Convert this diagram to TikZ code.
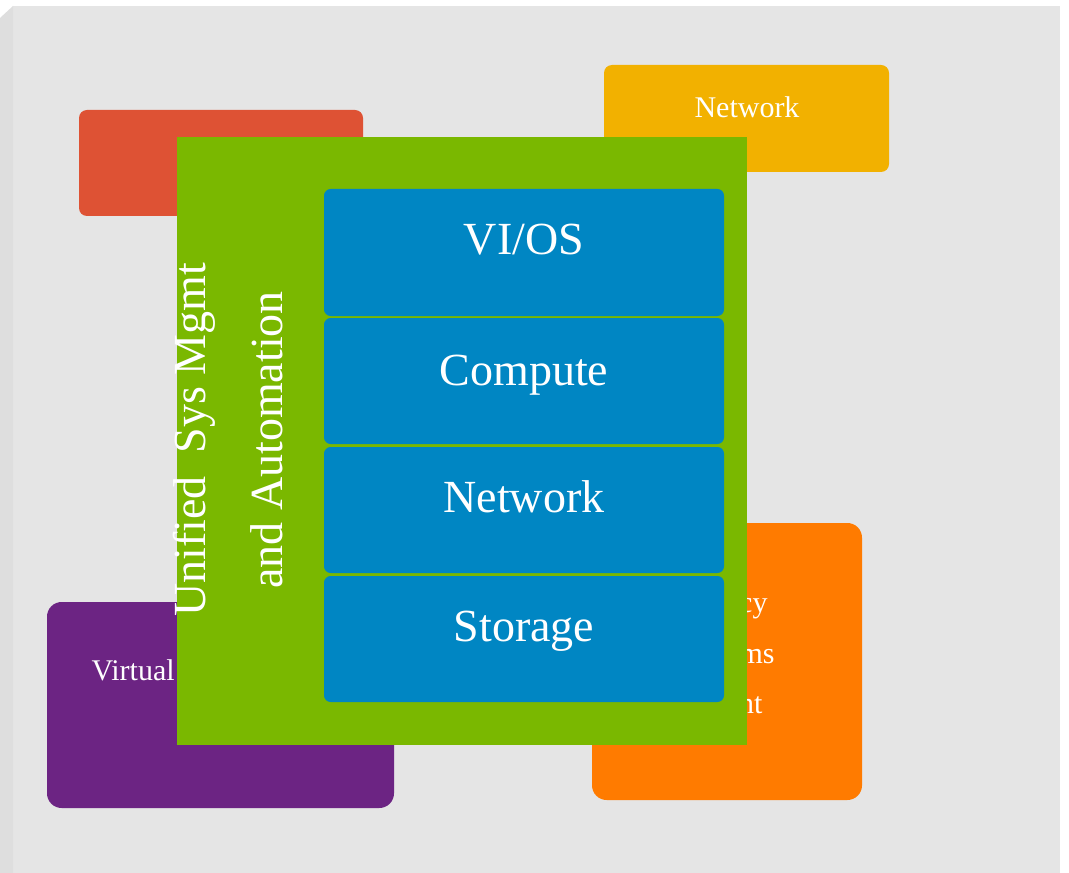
\documentclass[tikz,border=0pt]{standalone}
\usepackage{fontspec}
\setmainfont{Liberation Serif}

\definecolor{bggray}{RGB}{229,229,229}
\definecolor{bgedge}{RGB}{222,222,222}
\definecolor{redbox}{RGB}{222,82,52}
\definecolor{yellowbox}{RGB}{242,177,0}
\definecolor{purplebox}{RGB}{108,36,131}
\definecolor{orangebox}{RGB}{255,123,0}
\definecolor{greenbox}{RGB}{122,184,0}
\definecolor{bluebox}{RGB}{0,134,195}

\tikzset{every picture/.style={line width=0.75pt}}
\tikzset{
  smalltxt/.style={text=white, font=\fontsize{22.5}{27}\selectfont, inner sep=0pt},
  bigtxt/.style={text=white, font=\fontsize{34.5}{41}\selectfont, inner sep=0pt},
  layer/.style={fill=bluebox, rounded corners=5pt},
}

\begin{document}
\begin{tikzpicture}[x=0.75pt,y=0.75pt,yscale=-1,xscale=1]
	\useasboundingbox (0,0) rectangle (1069,873);

	%Shape: Background
	\fill [bggray] (13,6) -- (1060,6) -- (1060,873) -- (13,873) -- cycle ;
	\fill [bgedge] (0,18) -- (13,6) -- (13,873) -- (0,873) -- cycle ;

	%Shape: Rounded Rect (red)
	\fill [redbox, rounded corners=6pt] (79,110) rectangle (363,216) ;
	%Shape: Rounded Rect (yellow)
	\fill [yellowbox, rounded corners=6pt] (604,65) rectangle (889,172) ;
	% Text Node
	\node [smalltxt, anchor=base] (netsmall) at (747,118) {Network};
	%Shape: Rounded Rect (purple)
	\fill [purplebox, rounded corners=11pt] (47,602) rectangle (394,808) ;
	% Text Node
	\node [smalltxt, anchor=base west] (virt) at (91,680) {Virtual};
	%Shape: Rounded Rect (orange)
	\fill [orangebox, rounded corners=11pt] (592,523) rectangle (862,800) ;
	% Text Node
	\node [smalltxt, anchor=base east] (legacy) at (768,612) {Legacy};
	% Text Node
	\node [smalltxt, anchor=base east] (systems) at (775,663) {Systems};
	% Text Node
	\node [smalltxt, anchor=base east] (mgmt) at (763,713) {Management};

	%Shape: Rectangle (green)
	\fill [greenbox] (177,137) rectangle (747,745) ;
	% Text Node
	\node [bigtxt, rotate=90, anchor=base] (unified) at (205,440) {Unified\ \ Sys Mgmt};
	% Text Node
	\node [bigtxt, rotate=90, anchor=base] (automation) at (282,440) {and Automation};

	%Shape: Layers
	\fill [layer] (324,189) rectangle (724,316) ;
	\fill [layer] (324,318) rectangle (724,444) ;
	\fill [layer] (324,447) rectangle (724,573) ;
	\fill [layer] (324,576) rectangle (724,702) ;
	% Text Node
	\node [bigtxt, anchor=base] (vios) at (524,255) {VI/OS};
	% Text Node
	\node [bigtxt, anchor=base] (compute) at (524,385) {Compute};
	% Text Node
	\node [bigtxt, anchor=base] (network) at (524,512) {Network};
	% Text Node
	\node [bigtxt, anchor=base] (storage) at (524,641) {Storage};

\end{tikzpicture}
\end{document}
